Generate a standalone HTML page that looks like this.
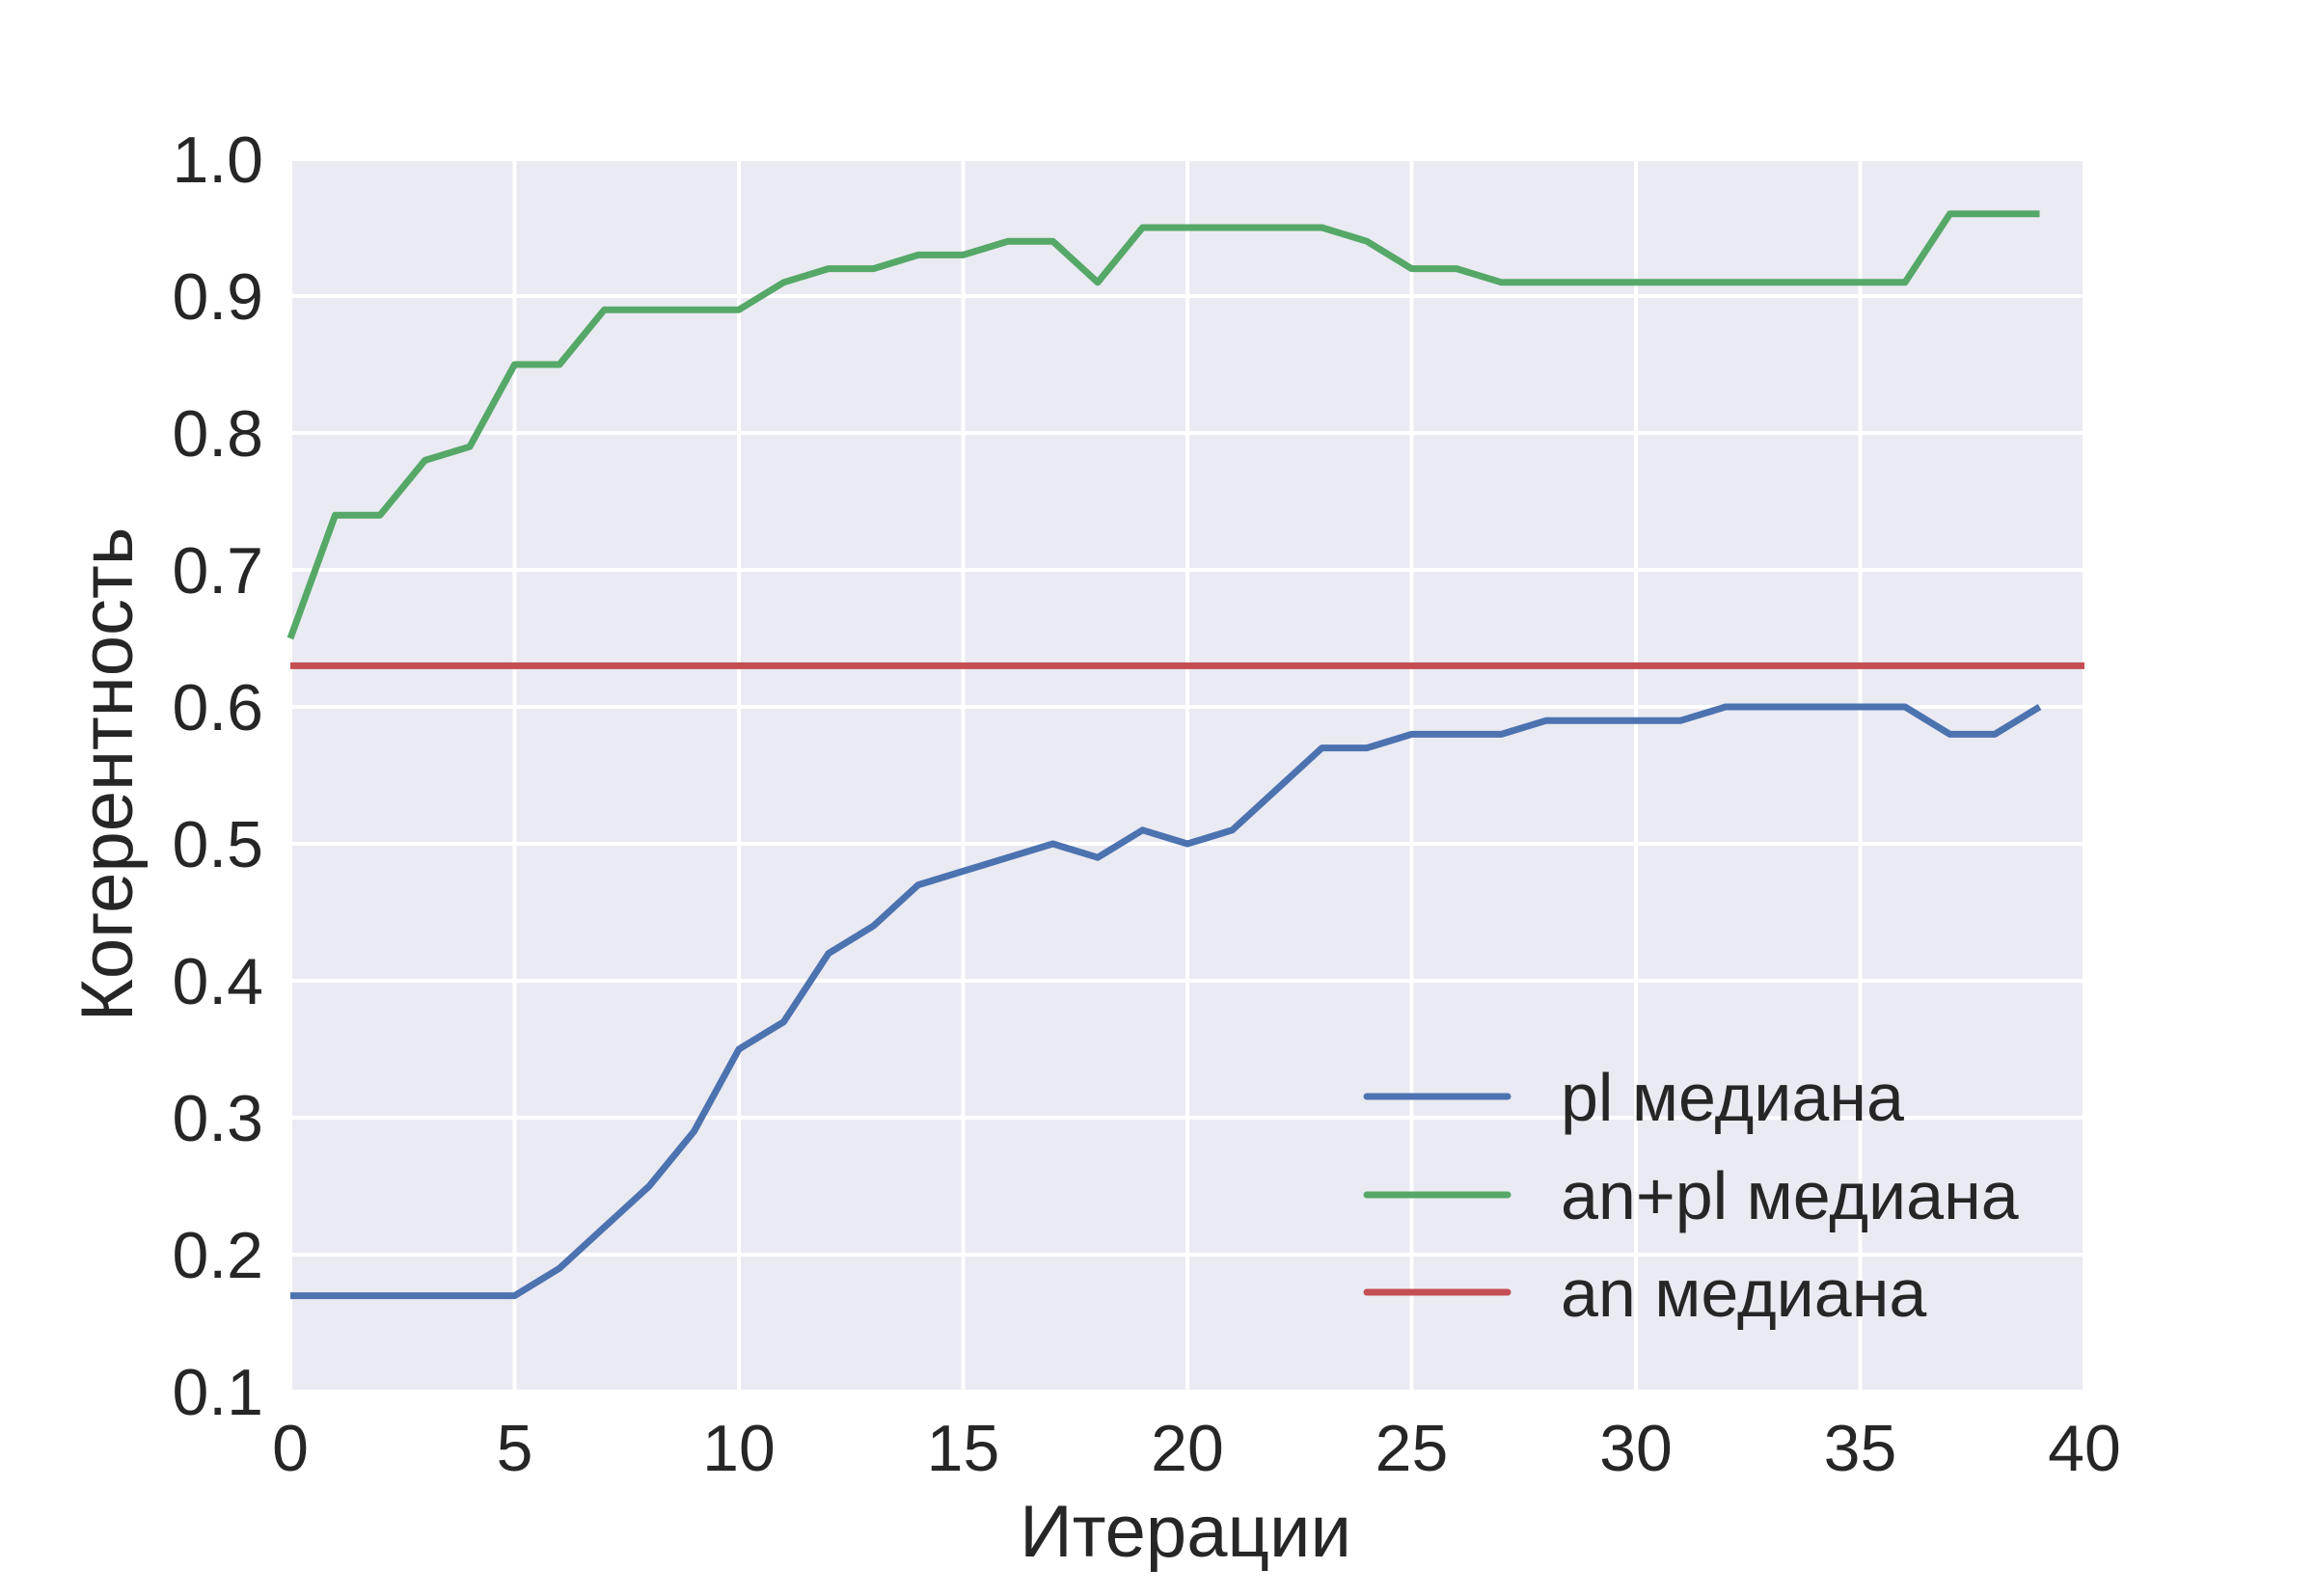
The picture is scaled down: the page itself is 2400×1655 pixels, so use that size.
<!DOCTYPE html>
<html><head><meta charset="utf-8"><style>
html,body{margin:0;padding:0;background:#fff;}
svg text{font-family:"Liberation Sans",sans-serif;fill:#262626;}
</style></head><body>
<svg id="chart" width="2400" height="1650" viewBox="0 0 2400 1650" xmlns="http://www.w3.org/2000/svg">
<rect x="301" y="165" width="1860" height="1278" fill="#eaeaf2"/>
<g id="grid"></g>
<g id="ticks"></g>
<g id="series"></g>
<text x="1229" y="1614" font-size="76" text-anchor="middle">Итерации</text>
<text x="0" y="0" font-size="76" text-anchor="middle" transform="translate(137,803) rotate(-90)">Когерентность</text>
<g id="legend"></g>
</svg>
<script>
const xTicks = [0,5,10,15,20,25,30,35,40];
const yTicks = [0.1,0.2,0.3,0.4,0.5,0.6,0.7,0.8,0.9,1.0];
const iterations = Array.from({length:40},(_,i)=>i);
const plMedian = [0.17,0.17,0.17,0.17,0.17,0.17,0.19,0.22,0.25,0.29,0.35,0.37,0.42,0.44,0.47,0.48,0.49,0.50,0.49,0.51,0.50,0.51,0.54,0.57,0.57,0.58,0.58,0.58,0.59,0.59,0.59,0.59,0.60,0.60,0.60,0.60,0.60,0.58,0.58,0.60];
const anPlMedian = [0.65,0.74,0.74,0.78,0.79,0.85,0.85,0.89,0.89,0.89,0.89,0.91,0.92,0.92,0.93,0.93,0.94,0.94,0.91,0.95,0.95,0.95,0.95,0.95,0.94,0.92,0.92,0.91,0.91,0.91,0.91,0.91,0.91,0.91,0.91,0.91,0.91,0.96,0.96,0.96];
const anMedian = 0.63;
const legendLabels = ["pl медиана","an+pl медиана","an медиана"];
const colors = ["#4c72b0","#55a868","#c44e52"];

const NS="http://www.w3.org/2000/svg";
const X0=301,X1=2161,Y0=1443,Y1=165;
function sx(v){return X0+(v-0)/(40-0)*(X1-X0);}
function sy(v){return Y0-(v-0.1)/(1.0-0.1)*(Y0-Y1);}
function mk(tag,attrs,parent){const e=document.createElementNS(NS,tag);for(const k in attrs)e.setAttribute(k,attrs[k]);parent.appendChild(e);return e;}
const grid=document.getElementById('grid'),ticks=document.getElementById('ticks'),series=document.getElementById('series'),legend=document.getElementById('legend');
xTicks.forEach(t=>{
  const l=mk('line',{x1:sx(t),x2:sx(t),y1:Y1,y2:Y0,stroke:'#fff','stroke-width':4},grid);
  
  
  const tx=mk('text',{x:sx(t),y:1525,'font-size':68,'text-anchor':'middle'},ticks);
  tx.textContent=String(t);
  
  
});
yTicks.forEach(t=>{
  const l=mk('line',{x1:X0,x2:X1,y1:sy(t),y2:sy(t),stroke:'#fff','stroke-width':4},grid);
  
  
  const tx=mk('text',{x:273,y:sy(t)+24,'font-size':68,'text-anchor':'end'},ticks);
  tx.textContent=t.toFixed(1);
  
  
});
function pathOf(vals){return vals.map((v,i)=>(i?'L':'M')+sx(iterations[i]).toFixed(1)+','+sy(v).toFixed(1)).join(' ');}
const p1=mk('path',{d:pathOf(plMedian),fill:'none',stroke:colors[0],'stroke-width':7,'stroke-linejoin':'round'},series);


const p2=mk('path',{d:pathOf(anPlMedian),fill:'none',stroke:colors[1],'stroke-width':7,'stroke-linejoin':'round'},series);


const p3=mk('line',{x1:sx(0),x2:sx(40),y1:sy(anMedian),y2:sy(anMedian),stroke:colors[2],'stroke-width':7},series);


const ly=[1137,1239,1340];
legendLabels.forEach((lab,i)=>{
  const l=mk('line',{x1:1417,x2:1563,y1:ly[i],y2:ly[i],stroke:colors[i],'stroke-width':7,'stroke-linecap':'round'},legend);
  
  
  const t=mk('text',{x:1618,y:ly[i]+25,'font-size':70},legend);
  t.textContent=lab;
  
  
});
</script>
</body></html>
